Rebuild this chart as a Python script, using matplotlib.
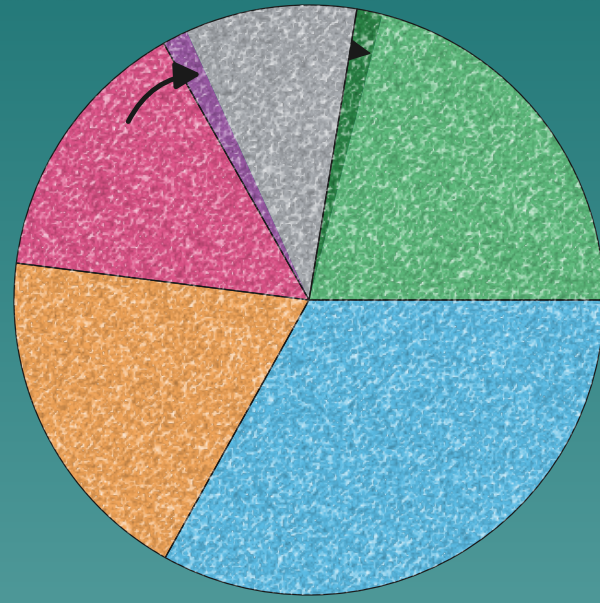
import numpy as np
import matplotlib
matplotlib.use("Agg")
import matplotlib.pyplot as plt
from matplotlib.patches import Circle

# slice shares in percent, counterclockwise from 3 o'clock
categories = ["green", "green_sub", "gray", "gray_sub", "pink", "orange", "blue"]
shares = [21.0, 1.4, 9.4, 1.4, 14.8, 18.9, 33.1]
colors = ["#5dbb7c", "#2a8546", "#a7abb0", "#9a58a4", "#de5389", "#f1a458", "#5abbe4"]

# outlined groups (sub-slices sit inside their parent wedge)
group_shares = [22.4, 10.8, 14.8, 18.9, 33.1]

W, H = 600, 603
cx, cy, R = 309, H - 300, 295

fig = plt.figure(figsize=(6, 6.03), dpi=100)
ax = fig.add_axes([0, 0, 1, 1])

# teal background gradient
top = np.array([37, 122, 122]) / 255
bottom = np.array([78, 152, 152]) / 255
t = np.linspace(0, 1, 256)[:, None]
grad = bottom * (1 - t[..., None]) + top * t[..., None]
grad = np.repeat(grad, 2, axis=1)
ax.imshow(grad, extent=[0, W, 0, H], origin="lower", aspect="auto", zorder=0)

ax.pie(shares, colors=colors, startangle=0, counterclock=True,
       center=(cx, cy), radius=R, frame=True,
       wedgeprops=dict(edgecolor="none", linewidth=0))
ax.pie(group_shares, colors=["none"] * len(group_shares), startangle=0,
       center=(cx, cy), radius=R, frame=True,
       wedgeprops=dict(edgecolor="#1a1a1a", linewidth=0.9, fill=False))
ax.set_xlim(0, W)
ax.set_ylim(0, H)
ax.set_aspect("equal")
ax.axis("off")

# speckle texture over the pie
rng = np.random.default_rng(3)
n = 320
noise = rng.random((n, n))
noise = (noise + np.roll(noise, 1, 0) + np.roll(noise, 1, 1)) / 3
tex = np.zeros((n, n, 4))
light = noise > 0.5
tex[..., :3] = light[..., None] * 1.0
tex[..., 3] = np.where(light, (noise - 0.5) * 1.7, (0.5 - noise) * 0.6)
im = ax.imshow(tex, extent=[cx - R, cx + R, cy - R, cy + R], zorder=3,
               interpolation="bilinear")
im.set_clip_path(Circle((cx, cy), R, transform=ax.transData))

# arrows pointing at the small sub-slices
ax.annotate("", xy=(204, H - 74), xytext=(127, H - 124),
            arrowprops=dict(arrowstyle="-|>,head_length=1.5,head_width=0.8",
                            connectionstyle="arc3,rad=-0.3",
                            color="#1a1a1a", lw=3.5), zorder=5)
ax.annotate("", xy=(374, H - 54), xytext=(350, H - 50),
            arrowprops=dict(arrowstyle="-|>,head_length=1.4,head_width=0.7",
                            color="#1a1a1a", lw=1), zorder=5)

fig.savefig("out.png", dpi=100)
